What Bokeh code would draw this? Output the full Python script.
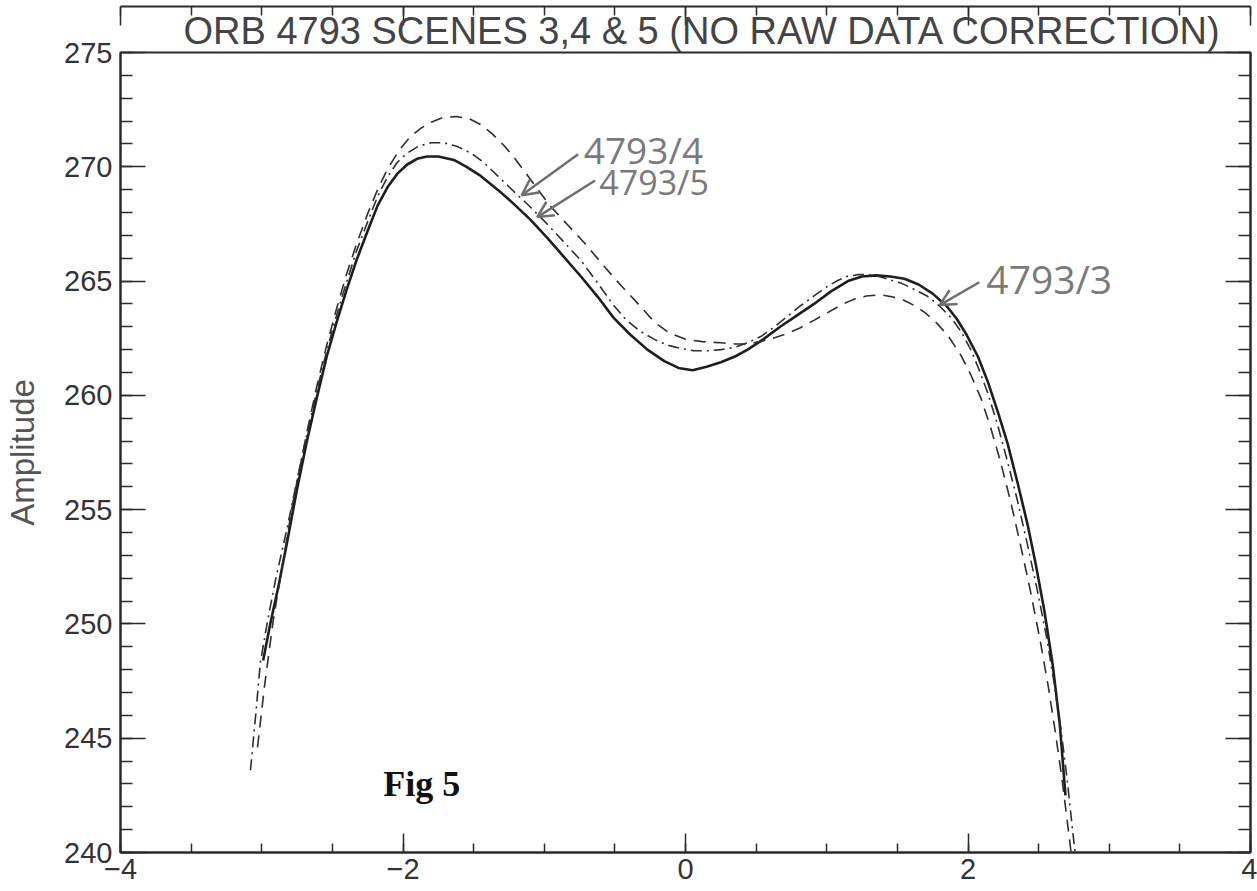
from bokeh.plotting import figure
from bokeh.models import (Range1d, LinearAxis, SingleIntervalTicker, Label,
                          Arrow, OpenHead, Title, CustomJSTickFormatter)
from bokeh.embed import file_html
from bokeh.resources import INLINE

# ---------------- data ----------------
TITLE = "ORB 4793 SCENES 3,4 & 5 (NO RAW DATA CORRECTION)"
Y_LABEL = "Amplitude"
FIG_LABEL = "Fig 5"
X_TICK_LABELS = {-4: "\u22124", -2: "\u22122", 0: "0", 2: "2", 4: "4"}

# scene 4793/3 (solid)
scene3_x = [-2.99, -2.94, -2.88, -2.82, -2.75, -2.68, -2.61, -2.54, -2.47, -2.40,
            -2.33, -2.25, -2.18, -2.11, -2.04, -1.97, -1.90, -1.83, -1.75, -1.64,
            -1.55, -1.45, -1.33, -1.22, -1.10, -0.98, -0.86, -0.74, -0.62, -0.51,
            -0.39, -0.27, -0.15, -0.05, 0.05, 0.15, 0.25, 0.35, 0.44, 0.55,
            0.67, 0.79, 0.91, 1.03, 1.15, 1.25, 1.35, 1.45, 1.55, 1.65,
            1.75, 1.85, 1.92, 1.99, 2.07, 2.14, 2.21, 2.28, 2.35, 2.42,
            2.48, 2.54, 2.60, 2.65, 2.69]
scene3_y = [248.4, 250.0, 251.7, 253.6, 255.9, 258.0, 259.9, 261.7, 263.2, 264.6,
            265.9, 267.2, 268.3, 269.1, 269.7, 270.1, 270.35, 270.45, 270.45, 270.3,
            270.0, 269.6, 269.0, 268.4, 267.7, 266.9, 266.05, 265.2, 264.3, 263.4,
            262.65, 262.0, 261.5, 261.2, 261.1, 261.25, 261.45, 261.7, 262.0, 262.45,
            263.0, 263.5, 264.0, 264.55, 265.0, 265.2, 265.25, 265.2, 265.1, 264.85,
            264.45, 263.9, 263.35, 262.65, 261.7, 260.6, 259.3, 257.9, 256.2, 254.4,
            252.6, 250.6, 248.2, 245.6, 242.5]

# scene 4793/4 (dashed)
scene4_x = [-3.03, -2.98, -2.92, -2.85, -2.78, -2.68, -2.61, -2.54, -2.47, -2.40,
            -2.33, -2.25, -2.18, -2.11, -2.03, -1.95, -1.87, -1.80, -1.72, -1.62,
            -1.53, -1.45, -1.37, -1.28, -1.20, -1.08, -0.96, -0.84, -0.72, -0.61,
            -0.50, -0.41, -0.32, -0.22, -0.12, 0.00, 0.12, 0.25, 0.35, 0.44,
            0.53, 0.62, 0.72, 0.81, 0.90, 1.00, 1.10, 1.19, 1.28, 1.38,
            1.47, 1.55, 1.63, 1.70, 1.78, 1.86, 1.95, 2.02, 2.09, 2.16,
            2.23, 2.30, 2.37, 2.44, 2.51, 2.57, 2.62, 2.67, 2.71, 2.75]
scene4_y = [244.6, 247.3, 250.1, 252.7, 255.3, 258.4, 260.4, 262.2, 263.8, 265.3,
            266.6, 267.95, 269.0, 269.9, 270.7, 271.3, 271.7, 271.95, 272.15, 272.2,
            272.1, 271.85, 271.45, 270.9, 270.3, 269.3, 268.3, 267.5, 266.7, 265.9,
            265.1, 264.5, 263.9, 263.2, 262.75, 262.45, 262.35, 262.3, 262.25, 262.25,
            262.35, 262.5, 262.7, 262.95, 263.25, 263.6, 263.95, 264.2, 264.35, 264.4,
            264.3, 264.15, 263.9, 263.6, 263.15, 262.6, 261.75, 260.9, 259.9, 258.6,
            257.1, 255.4, 253.5, 251.5, 249.3, 247.2, 245.2, 243.0, 241.0, 239.0]

# scene 4793/5 (dash-dot)
scene5_x = [-3.08, -3.04, -3.01, -2.96, -2.90, -2.82, -2.75, -2.68, -2.61, -2.54,
            -2.47, -2.40, -2.33, -2.25, -2.18, -2.11, -2.04, -1.97, -1.89, -1.80,
            -1.71, -1.62, -1.52, -1.43, -1.33, -1.22, -1.10, -0.98, -0.86, -0.74,
            -0.62, -0.51, -0.42, -0.32, -0.22, -0.13, -0.03, 0.06, 0.16, 0.25,
            0.35, 0.44, 0.54, 0.63, 0.72, 0.81, 0.91, 1.00, 1.07, 1.14,
            1.22, 1.29, 1.37, 1.45, 1.53, 1.60, 1.71, 1.80, 1.88, 1.95,
            2.02, 2.08, 2.14, 2.21, 2.28, 2.35, 2.42, 2.49, 2.56, 2.61,
            2.66, 2.70, 2.74, 2.78]
scene5_y = [243.6, 246.2, 248.3, 250.1, 252.0, 254.2, 256.3, 258.3, 260.2, 261.95,
            263.5, 264.95, 266.3, 267.6, 268.7, 269.55, 270.2, 270.6, 270.9, 271.05,
            271.05, 270.9, 270.6, 270.2, 269.6, 268.95, 268.25, 267.5, 266.7, 265.9,
            264.9, 263.95, 263.3, 262.8, 262.45, 262.2, 262.05, 261.95, 261.95, 262.0,
            262.1, 262.3, 262.6, 263.0, 263.45, 263.9, 264.35, 264.75, 265.0, 265.2,
            265.28, 265.28, 265.2, 265.05, 264.9, 264.7, 264.35, 263.9, 263.4, 262.8,
            262.0, 261.1, 260.1, 258.7, 257.1, 255.4, 253.5, 251.5, 249.3, 247.4,
            245.3, 243.3, 241.0, 238.8]

# hand-written annotations: text, text anchor (x, y), arrow tail, arrow head, size
notes = [
    ("4793/4", (-0.72, 270.75), (-0.76, 270.55), (-1.16, 268.75), 37),
    ("4793/5", (-0.61, 269.35), (-0.64, 269.40), (-1.05, 267.80), 34),
    ("4793/3", (2.13, 265.1), (2.08, 264.95), (1.80, 263.95), 39),
]
fig_label_pos = (-2.14, 243.0)

# ---------------- figure ----------------
INK = "#2a2a2a"
FONT = "Liberation Sans"

p = figure(width=1257, height=891,
           x_range=Range1d(-4, 4), y_range=Range1d(240, 275),
           min_border_left=120, min_border_right=7,
           min_border_top=52, min_border_bottom=39,
           output_backend="svg", toolbar_location=None,
           background_fill_color="white", border_fill_color="white")
p.xgrid.visible = False
p.ygrid.visible = False
p.outline_line_color = INK
p.outline_line_width = 2

title = Title(text=TITLE, align="left", offset=63,
              text_font=FONT, text_font_size="38px",
              text_font_style="normal", text_color="#444444", standoff=2)
p.add_layout(title, "above")

BLANK = CustomJSTickFormatter(code="return ''")


def style_axis(ax, labels):
    ax.axis_line_color = INK
    ax.axis_line_width = 2
    ax.major_tick_line_color = INK
    ax.minor_tick_line_color = INK
    ax.major_tick_line_width = 1.5
    ax.minor_tick_line_width = 1.5
    ax.major_tick_out = 0
    ax.minor_tick_out = 0
    if labels:
        ax.major_label_text_font = FONT
        ax.major_label_text_font_size = "29px"
        ax.major_label_text_color = "#333333"
    else:
        ax.formatter = BLANK
        ax.major_label_standoff = 0


# x axes
xb = p.xaxis[0]
xb.ticker = SingleIntervalTicker(interval=2, num_minor_ticks=4)
xb.major_label_overrides = X_TICK_LABELS
style_axis(xb, True)
xb.major_tick_in = 19
xb.minor_tick_in = 9
xb.major_label_standoff = 6

xt = LinearAxis(ticker=SingleIntervalTicker(interval=2, num_minor_ticks=4))
style_axis(xt, False)
xt.major_tick_in = 19
xt.minor_tick_in = 9
p.add_layout(xt, "above")

# y axes
yl = p.yaxis[0]
yl.ticker = SingleIntervalTicker(interval=5, num_minor_ticks=5)
style_axis(yl, True)
yl.major_tick_in = 25
yl.minor_tick_in = 12
yl.major_label_standoff = 8
yl.axis_label = Y_LABEL
yl.axis_label_text_font = FONT
yl.axis_label_text_font_style = "normal"
yl.axis_label_text_font_size = "33px"
yl.axis_label_text_color = "#555555"
yl.axis_label_standoff = 20

yr = LinearAxis(ticker=SingleIntervalTicker(interval=5, num_minor_ticks=5))
style_axis(yr, False)
yr.major_tick_in = 25
yr.minor_tick_in = 12
p.add_layout(yr, "right")

# curves
p.line(scene3_x, scene3_y, line_color="#1e1e1e", line_width=2.6,
       line_join="round")
p.line(scene4_x, scene4_y, line_color="#2e2e2e", line_width=1.6,
       line_dash="12 8")
p.line(scene5_x, scene5_y, line_color="#2e2e2e", line_width=1.6,
       line_dash="11 5 2 5")

# "Fig 5"
p.add_layout(Label(x=fig_label_pos[0], y=fig_label_pos[1], text=FIG_LABEL,
                   text_font="Liberation Serif", text_font_style="bold",
                   text_font_size="36px", text_color="#111111",
                   text_baseline="alphabetic"))

# hand-written notes
for txt, (tx, ty), (ax0, ay0), (ax1, ay1), fs in notes:
    p.add_layout(Label(x=tx, y=ty, text=txt, text_font="Open Sans",
                       text_font_size=f"{fs}px", text_color="#7a7a7a",
                       text_align="left", text_baseline="middle"))
    p.add_layout(Arrow(end=OpenHead(size=16, line_color="#6f6f6f",
                                    line_width=2.5),
                       x_start=ax0, y_start=ay0, x_end=ax1, y_end=ay1,
                       line_color="#6f6f6f", line_width=2.5))

open("out.html", "w").write(file_html(p, INLINE))
